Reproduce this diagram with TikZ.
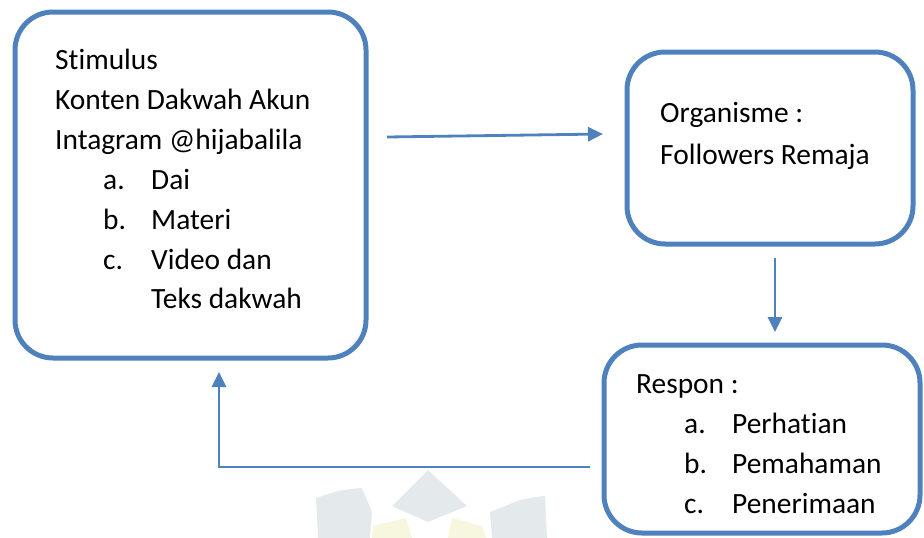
\documentclass[tikz,border=0pt]{standalone}
\usepackage{fontspec}
\setmainfont[Ligatures=NoCommon]{Carlito}
\usetikzlibrary{arrows.meta}
\definecolor{officeblue}{HTML}{4F81BD}
\definecolor{markgray}{HTML}{E4EAEC}
\definecolor{markyellow}{HTML}{F7F7E0}
\newcommand{\boxitem}[2]{\hspace*{48pt}\makebox[48pt][l]{#1}#2}
\tikzset{
  stagebox/.style={draw=officeblue,line width=5pt,rounded corners=38pt,inner sep=0pt},
  stagetext/.style={anchor=base west,inner sep=0pt,font=\fontsize{29.4}{40}\selectfont},
  flow/.style={draw=officeblue,line width=2.8pt,-{Triangle[length=15pt,width=14pt]}}
}
\begin{document}
\begin{tikzpicture}[x=1pt,y=-1pt]
    \useasboundingbox (0,0) rectangle (924,538);
    %% watermark
    \fill[markgray] (428,470) -- (467,506) -- (428,522) -- (392,506) -- cycle;
    \fill[markgray] (316,498) .. controls (340,490) .. (362,488) -- (372,512) -- (370,538) -- (318,538) -- cycle;
    \fill[markgray] (490,512) -- (520,500) .. controls (535,497) .. (545,496) -- (547,538) -- (492,538) -- cycle;
    \fill[markyellow] (373,526) -- (406,518) -- (412,538) -- (372,538) -- cycle;
    \fill[markyellow] (452,518) -- (482,526) -- (486,538) -- (448,538) -- cycle;
    %% stimulus
    \node[stagebox,minimum width=351pt,minimum height=346pt] (stim) at (190.5,185) {};
    \node[stagetext] (stimtext) at (55,69) {\begin{tabular}[t]{@{}l@{}}
        Stimulus\\
        Konten Dakwah Akun\\
        Intagram @hijabalila\\
        \boxitem{a.}{Dai}\\
        \boxitem{b.}{Materi}\\
        \boxitem{c.}{Video dan}\\
        \boxitem{}{Teks dakwah}
      \end{tabular}};
    %% organisme
    \node[stagebox,minimum width=286pt,minimum height=192pt] (org) at (770,148) {};
    \node[stagetext] (orgtext) at (660,122) {\begin{tabular}[t]{@{}l@{}}
        Organisme :\\[2pt]
        Followers Remaja
      \end{tabular}};
    %% respon
    \node[stagebox,minimum width=316pt,minimum height=188pt] (resp) at (762,439) {};
    \node[stagetext] (resptext) at (636,393) {\begin{tabular}[t]{@{}l@{}}
        Respon :\\
        \boxitem{a.}{Perhatian}\\
        \boxitem{b.}{Pemahaman}\\
        \boxitem{c.}{Penerimaan}
      \end{tabular}};
    %% connectors
    \draw[flow] ([xshift=18.5pt,yshift=48pt]stim.east) -- ([xshift=-21.5pt,yshift=14pt]org.west);
    \draw[flow] ([xshift=5pt,yshift=-11.5pt]org.south) -- ([xshift=13pt,yshift=10.5pt]resp.north);
    \draw[flow] ([xshift=-11.5pt,yshift=-28pt]resp.west) -| ([xshift=28.5pt,yshift=-11.5pt]stim.south);
\end{tikzpicture}
\end{document}
